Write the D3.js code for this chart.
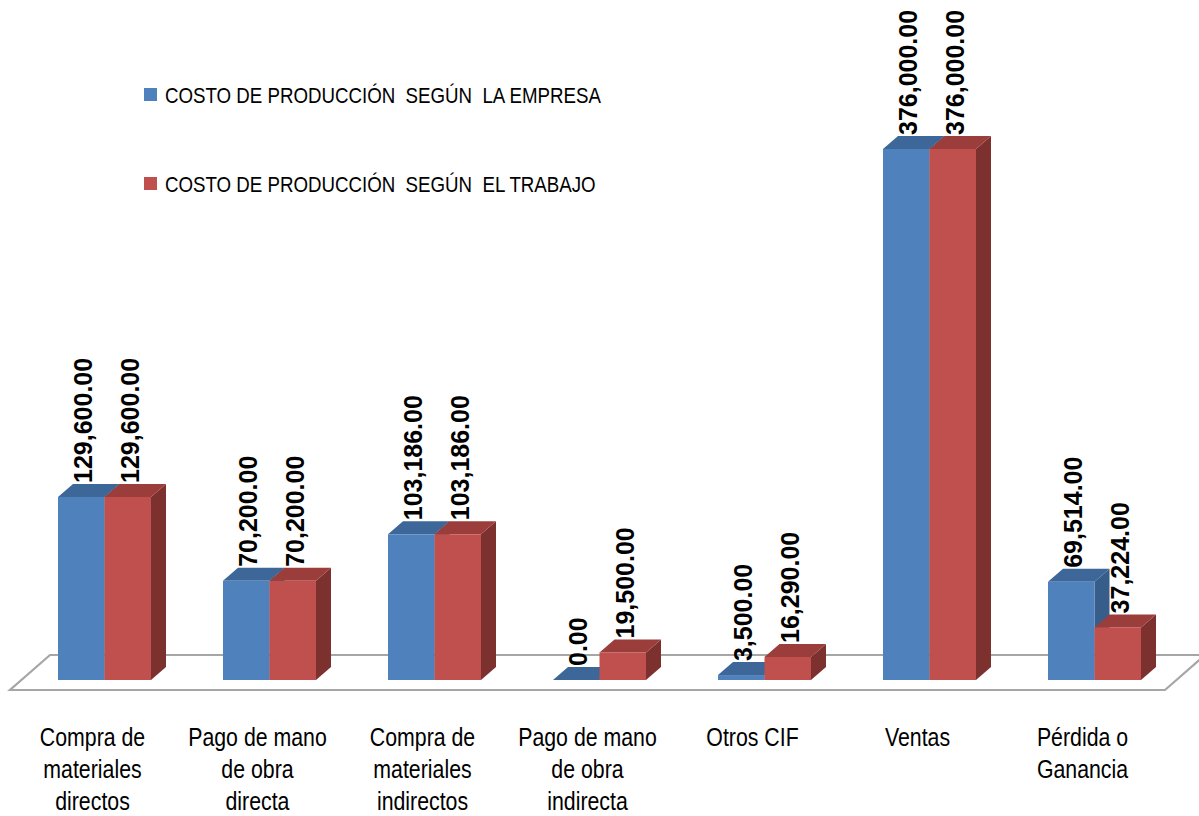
<!DOCTYPE html>
<html>
<head>
<meta charset="utf-8">
<script src="https://cdn.jsdelivr.net/npm/d3@7"></script>
<style>
  html, body { margin: 0; padding: 0; background: #fff; }
  svg { display: block; }
</style>
</head>
<body>
<div id="chart"></div>
<script>
// ---- data ----
const categories = [
  "Compra de\nmateriales\ndirectos",
  "Pago de mano\nde obra\ndirecta",
  "Compra de\nmateriales\nindirectos",
  "Pago de mano\nde obra\nindirecta",
  "Otros CIF",
  "Ventas",
  "Pérdida o\nGanancia"
];
const seriesNames = [
  "COSTO DE PRODUCCIÓN  SEGÚN  LA EMPRESA",
  "COSTO DE PRODUCCIÓN  SEGÚN  EL TRABAJO"
];
const empresa = [129600, 70200, 103186, 0, 3500, 376000, 69514];
const trabajo = [129600, 70200, 103186, 19500, 16290, 376000, 37224];
const valueMax = 376000;

// ---- styles ----
const colors = [
  { front: "#4F81BD", top: "#3D6799", side: "#375D8A" },
  { front: "#C0504D", top: "#9B3E3B", side: "#7D312F" }
];
const sans = "'Liberation Sans', Arial, sans-serif";

const W = 1199, H = 816;
const svg = d3.select("#chart").append("svg").attr("width", W).attr("height", H);

// floor geometry
const floorY = 690, floorX0 = 10, floorX1 = 1165, fdx = 40, fdy = -35;
// bar front plane offset from floor front edge, bar depth
const planeDx = 12, planeDy = -10, bdx = 15, bdy = -13;
const barW = 46.5;
const baseY = floorY + planeDy;

const x = d3.scaleBand().domain(categories).range([floorX0, floorX1]).padding(0);
const h = d3.scaleLinear().domain([0, valueMax]).range([0, 531]);
const fmt = d3.format(",.2f");

// floor
svg.append("polygon")
  .attr("points", [[floorX0, floorY], [floorX1, floorY], [floorX1 + fdx, floorY + fdy], [floorX0 + fdx, floorY + fdy]].map(p => p.join(",")).join(" "))
  .attr("fill", "#fff")
  .attr("stroke", "#A6A6A6")
  .attr("stroke-width", 2.2);

const series = [empresa, trabajo];

const groups = svg.append("g").selectAll("g").data(categories).join("g");
groups.each(function (cat, i) {
  const g = d3.select(this);
  const cx = x(cat) + x.bandwidth() / 2 + planeDx;
  series.forEach((vals, s) => {
    const v = vals[i];
    const x0 = cx - barW + s * barW;
    const yt = baseY - h(v);
    const c = colors[s];
    g.append("polygon")
      .attr("points", [[x0 + barW, yt], [x0 + barW + bdx, yt + bdy], [x0 + barW + bdx, baseY + bdy], [x0 + barW, baseY]].map(p => p.join(",")).join(" "))
      .attr("fill", c.side);
    g.append("polygon")
      .attr("points", [[x0, yt], [x0 + bdx, yt + bdy], [x0 + barW + bdx, yt + bdy], [x0 + barW, yt]].map(p => p.join(",")).join(" "))
      .attr("fill", c.top);
    g.append("rect")
      .attr("x", x0).attr("y", yt)
      .attr("width", barW).attr("height", h(v))
      .attr("fill", c.front);
  });
});

// value labels
groups.each(function (cat, i) {
  const g = d3.select(this);
  const cx = x(cat) + x.bandwidth() / 2 + planeDx;
  series.forEach((vals, s) => {
    const v = vals[i];
    const lx = cx - barW / 2 + s * barW + 2;
    const ly = baseY - h(v) + bdy - 1;
    g.append("text")
      .attr("transform", `translate(${lx},${ly}) rotate(-90)`)
      .attr("dy", "0.35em")
      .attr("text-anchor", "start")
      .attr("font-family", sans)
      .attr("font-weight", "bold")
      .attr("font-size", 25)
      .attr("fill", "#000")
      .text(fmt(v));
  });
});

// category labels (narrow, Calibri-like)
const catG = svg.append("g");
categories.forEach(cat => {
  const cx = x(cat) + x.bandwidth() / 2;
  const t = catG.append("text")
    .attr("transform", `translate(${cx},746) scale(0.82,1)`)
    .attr("text-anchor", "middle")
    .attr("font-family", sans)
    .attr("font-size", 26)
    .attr("fill", "#000");
  cat.split("\n").forEach((line, k) => {
    t.append("tspan")
      .attr("x", 0)
      .attr("y", k * 32)
      .text(line);
  });
});

// legend
const legend = svg.append("g");
const legendY = [103, 192];
seriesNames.forEach((name, s) => {
  legend.append("rect")
    .attr("x", 144).attr("y", legendY[s] - 15)
    .attr("width", 13).attr("height", 13)
    .attr("fill", colors[s].front);
  legend.append("text")
    .attr("transform", `translate(165,${legendY[s]}) scale(0.85,1)`)
    .attr("font-family", sans)
    .attr("font-size", 22)
    .attr("fill", "#000")
    .style("white-space", "pre")
    .text(name);
});
</script>
</body>
</html>
